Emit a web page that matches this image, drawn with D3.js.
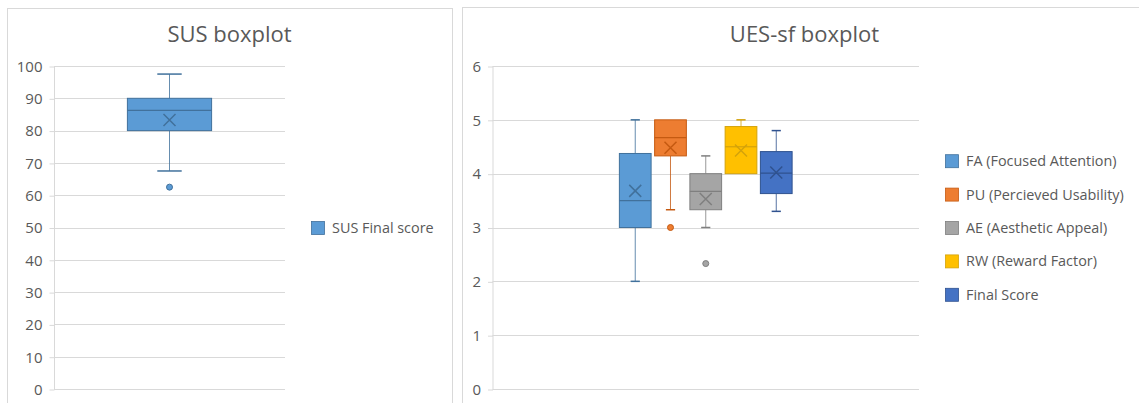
<!DOCTYPE html>
<html>
<head>
<meta charset="utf-8">
<script src="https://cdn.jsdelivr.net/npm/d3@7"></script>
<style>
  body { margin: 0; background: #fff; }
  text { font-family: "Open Sans", sans-serif; fill: #595959; }
  .grid line { stroke: #d9d9d9; stroke-width: 1; }
  .panel { fill: #fff; stroke: #d9d9d9; stroke-width: 1; }
</style>
</head>
<body>
<svg id="chart" width="1139" height="403"></svg>
<script>
  // SUS boxplot
  var susNames = ["SUS Final score"];
  var susLow = [67.5];
  var susQ1 = [80];
  var susMedian = [86.25];
  var susQ3 = [90];
  var susHigh = [97.5];
  var susMean = [83.3];
  var susOutliers = [[62.5]];
  var susTicks = [0, 10, 20, 30, 40, 50, 60, 70, 80, 90, 100];

  // UES-sf boxplot
  var uesNames = ["FA (Focused Attention)", "PU (Percieved Usability)", "AE (Aesthetic Appeal)", "RW (Reward Factor)", "Final Score"];
  var uesLow = [2, 3.33, 3, 4, 3.3];
  var uesQ1 = [3, 4.33, 3.33, 4, 3.63];
  var uesMedian = [3.5, 4.67, 3.67, 4.5, 4.01];
  var uesQ3 = [4.375, 5, 4, 4.875, 4.41];
  var uesHigh = [5, 5, 4.33, 5, 4.8];
  var uesMean = [3.68, 4.48, 3.53, 4.43, 4.02];
  var uesOutliers = [[], [3], [2.33], [], []];
  var uesTicks = [0, 1, 2, 3, 4, 5, 6];

  var fills = ["#5b9bd5", "#ed7d31", "#a5a5a5", "#ffc000", "#4472c4"];
  var strokes = ["#41719c", "#c55a11", "#7f7f7f", "#d4a20a", "#2f528f"];

  var svg = d3.select("#chart");

  // panel frames
  svg.append("rect").attr("class", "panel").attr("x", 7.5).attr("y", 8.5).attr("width", 445).attr("height", 420);
  svg.append("rect").attr("class", "panel").attr("x", 462.5).attr("y", 7.5).attr("width", 700).attr("height", 420);

  function boxplot(opts) {
    var g = svg.append("g");
    var y = d3.scaleLinear().domain(opts.domain).range([389, 66]);
    var w = opts.right - opts.left;
    var mid = opts.left + w / 2;
    var x = d3.scaleBand().domain(opts.names)
      .range([mid - 0.2025 * w, mid + 0.2025 * w])
      .paddingInner(0.1).paddingOuter(0);

    // gridlines
    g.append("g").attr("class", "grid")
      .selectAll("line").data(opts.ticks).join("line")
      .attr("x1", opts.left).attr("x2", opts.right)
      .attr("y1", d => Math.round(y(d)) + 0.5).attr("y2", d => Math.round(y(d)) + 0.5);

    var axis = g.append("g")
      .attr("transform", "translate(" + (opts.left + 0.5) + ",0.5)")
      .call(d3.axisLeft(y).tickValues(opts.ticks).tickSize(5).tickPadding(7).tickFormat(d3.format("d")));
    axis.select(".domain").attr("stroke", "#d9d9d9").attr("d", "M0," + y(opts.domain[1]) + "V" + y(0));
    axis.selectAll(".tick line").attr("stroke", "#d9d9d9");
    axis.selectAll(".tick text").style("font-size", "15px").attr("fill", "#595959");

    // title
    g.append("text").attr("x", opts.titleX).attr("y", 42)
      .attr("text-anchor", "middle").style("font-size", "22px").text(opts.title);

    var items = opts.names.map((n, i) => ({
      name: n, i: i, low: opts.low[i], q1: opts.q1[i], med: opts.median[i],
      q3: opts.q3[i], high: opts.high[i], mean: opts.mean[i], out: opts.outliers[i]
    }));

    var box = g.selectAll(".box").data(items).join("g").attr("class", "box")
      .attr("transform", d => "translate(" + (x(d.name) + x.bandwidth() / 2) + ",0)");
    var bw = x.bandwidth();
    var cap = bw * 0.29;

    // whiskers
    box.append("line").attr("x1", 0).attr("x2", 0)
      .attr("y1", d => y(d.q3)).attr("y2", d => y(d.high))
      .attr("stroke", d => strokes[d.i]).attr("stroke-width", 1).attr("opacity", 0.8);
    box.append("line").attr("x1", 0).attr("x2", 0)
      .attr("y1", d => y(d.q1)).attr("y2", d => y(d.low))
      .attr("stroke", d => strokes[d.i]).attr("stroke-width", 1).attr("opacity", 0.8);
    box.filter(d => d.high > d.q3).append("line").attr("x1", -cap / 2).attr("x2", cap / 2)
      .attr("y1", d => y(d.high)).attr("y2", d => y(d.high))
      .attr("stroke", d => strokes[d.i]).attr("stroke-width", 1.5);
    box.filter(d => d.low < d.q1).append("line").attr("x1", -cap / 2).attr("x2", cap / 2)
      .attr("y1", d => y(d.low)).attr("y2", d => y(d.low))
      .attr("stroke", d => strokes[d.i]).attr("stroke-width", 1.5);

    // box
    box.append("rect").attr("x", -bw / 2).attr("width", bw)
      .attr("y", d => y(d.q3)).attr("height", d => y(d.q1) - y(d.q3))
      .attr("fill", d => fills[d.i]).attr("stroke", d => strokes[d.i]).attr("stroke-width", 1);
    box.append("line").attr("x1", -bw / 2).attr("x2", bw / 2)
      .attr("y1", d => y(d.med)).attr("y2", d => y(d.med))
      .attr("stroke", d => strokes[d.i]).attr("stroke-width", 1.2);

    // mean marker
    box.append("path")
      .attr("d", d => { var c = y(d.mean); return "M-6," + (c - 6) + "L6," + (c + 6) + "M-6," + (c + 6) + "L6," + (c - 6); })
      .attr("fill", "none").attr("stroke", d => strokes[d.i]).attr("stroke-width", 1.5);

    // outliers
    box.selectAll("circle").data(d => d.out.map(v => ({ v: v, i: d.i }))).join("circle")
      .attr("cx", 0).attr("cy", d => y(d.v)).attr("r", 3)
      .attr("fill", d => fills[d.i]).attr("stroke", d => strokes[d.i]).attr("stroke-width", 1);

    // legend
    var n = opts.names.length;
    var lg = g.selectAll(".leg").data(items).join("g").attr("class", "leg")
      .attr("transform", d => "translate(" + opts.legendX + "," + (227.5 + (d.i - (n - 1) / 2) * 33.4) + ")");
    lg.append("rect").attr("x", 0.5).attr("y", -6).attr("width", 13).attr("height", 13)
      .attr("fill", d => fills[d.i]).attr("stroke", d => strokes[d.i]).attr("stroke-width", 0.8);
    lg.append("text").attr("x", 21).attr("y", 0.5).attr("dy", "0.35em")
      .style("font-size", "14.4px").text(d => d.name);
  }

  boxplot({
    title: "SUS boxplot", titleX: 229.5, left: 54, right: 285, legendX: 311,
    domain: [0, 100], ticks: susTicks, names: susNames,
    low: susLow, q1: susQ1, median: susMedian, q3: susQ3, high: susHigh, mean: susMean, outliers: susOutliers
  });

  boxplot({
    title: "UES-sf boxplot", titleX: 804.5, left: 492.5, right: 919, legendX: 945,
    domain: [0, 6], ticks: uesTicks, names: uesNames,
    low: uesLow, q1: uesQ1, median: uesMedian, q3: uesQ3, high: uesHigh, mean: uesMean, outliers: uesOutliers
  });
</script>
</body>
</html>
